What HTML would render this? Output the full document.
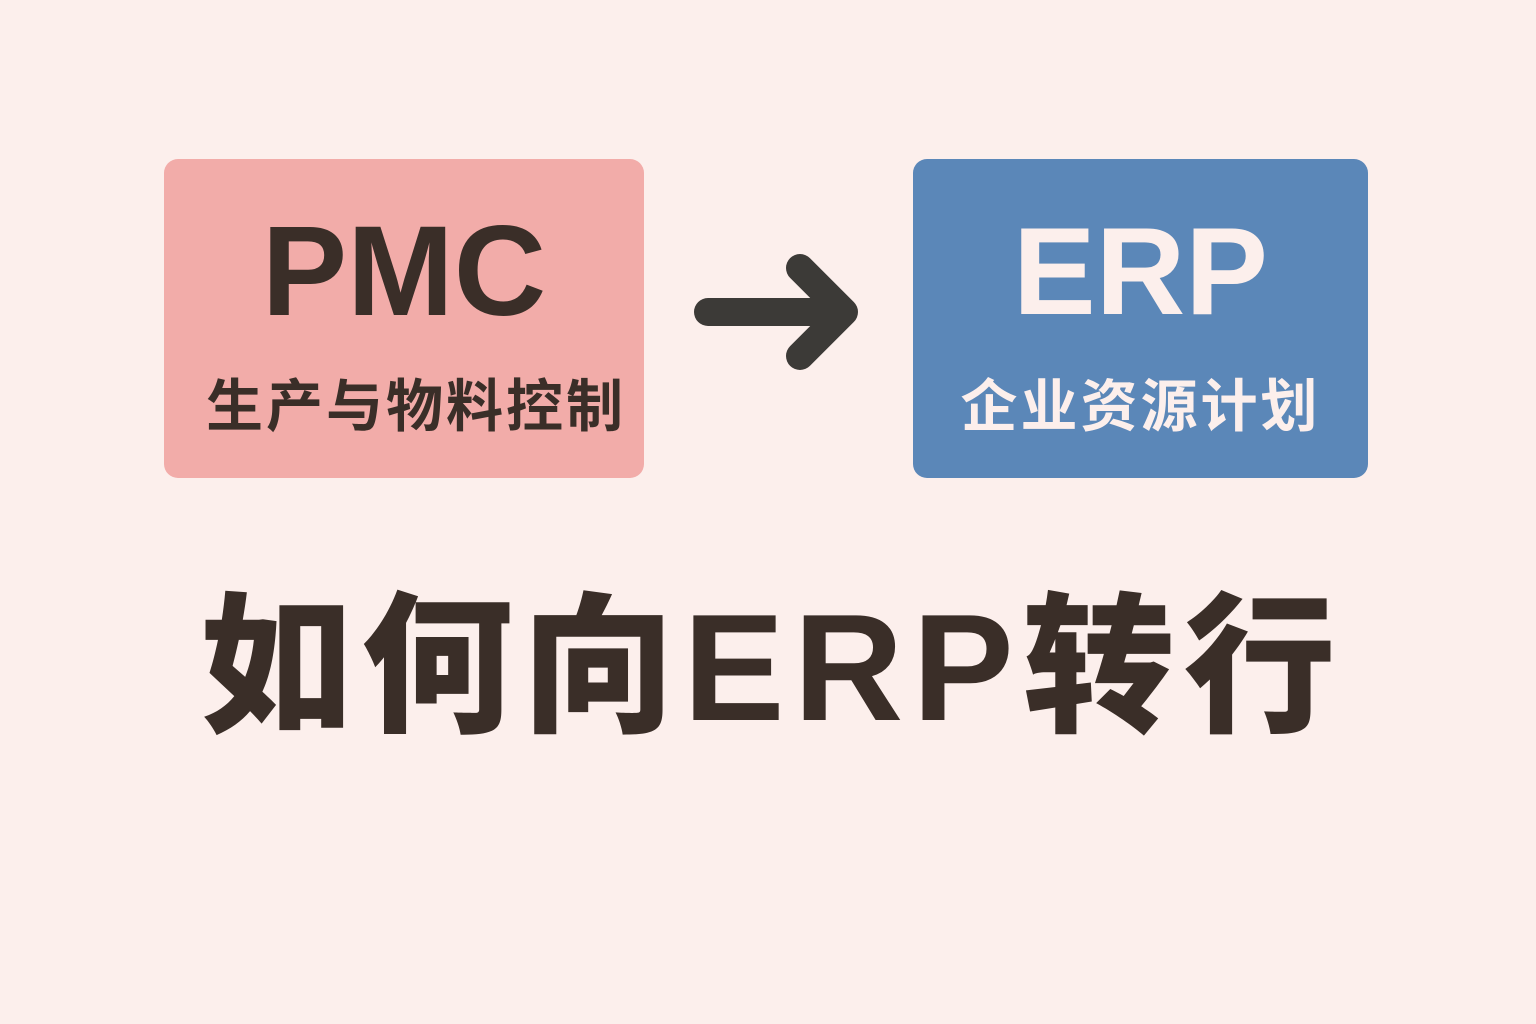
<!DOCTYPE html>
<html><head><meta charset="utf-8"><style>
html,body{margin:0;padding:0}
body{width:1536px;height:1024px;background:#fcefec;position:relative;overflow:hidden;font-family:"Liberation Sans","Noto Sans CJK SC",sans-serif}
.box{position:absolute;top:159px;height:319px;border-radius:14px}
.t{position:absolute;left:0;right:0;text-align:center;font-weight:bold;white-space:nowrap}
</style></head><body>
<div class="box" style="left:164px;width:480px;background:#f2aca9">
  <div class="t" style="top:48px;font-size:128px;color:#3a2e28;line-height:130px">PMC</div>
  <div class="t" style="top:208px;font-size:57px;color:#3a2e28;line-height:70px;font-family:'Noto Sans CJK SC',sans-serif;font-weight:bold;padding-left:24px;letter-spacing:3px">生产与物料控制</div>
</div>
<div class="box" style="left:913px;width:455px;background:#5b87b8">
  <div class="t" style="top:48px;font-size:124px;color:#fcefec;line-height:130px">ERP</div>
  <div class="t" style="top:208px;font-size:57px;color:#fcefec;line-height:70px;font-family:'Noto Sans CJK SC',sans-serif;font-weight:bold;letter-spacing:3px">企业资源计划</div>
</div>
<svg style="position:absolute;left:0;top:0" width="1536" height="1024">
  <path d="M708 312 H842 M800 268 L844 312 L800 356" fill="none" stroke="#3c3a37" stroke-width="28" stroke-linecap="round" stroke-linejoin="round"/>
</svg>
<div class="t" style="top:578px;font-size:152px;line-height:180px;color:#3a2e28;font-family:'Liberation Sans','Noto Sans CJK SC',sans-serif;font-weight:900;letter-spacing:9px;padding-left:9px">如何向ERP转行</div>
</body></html>
